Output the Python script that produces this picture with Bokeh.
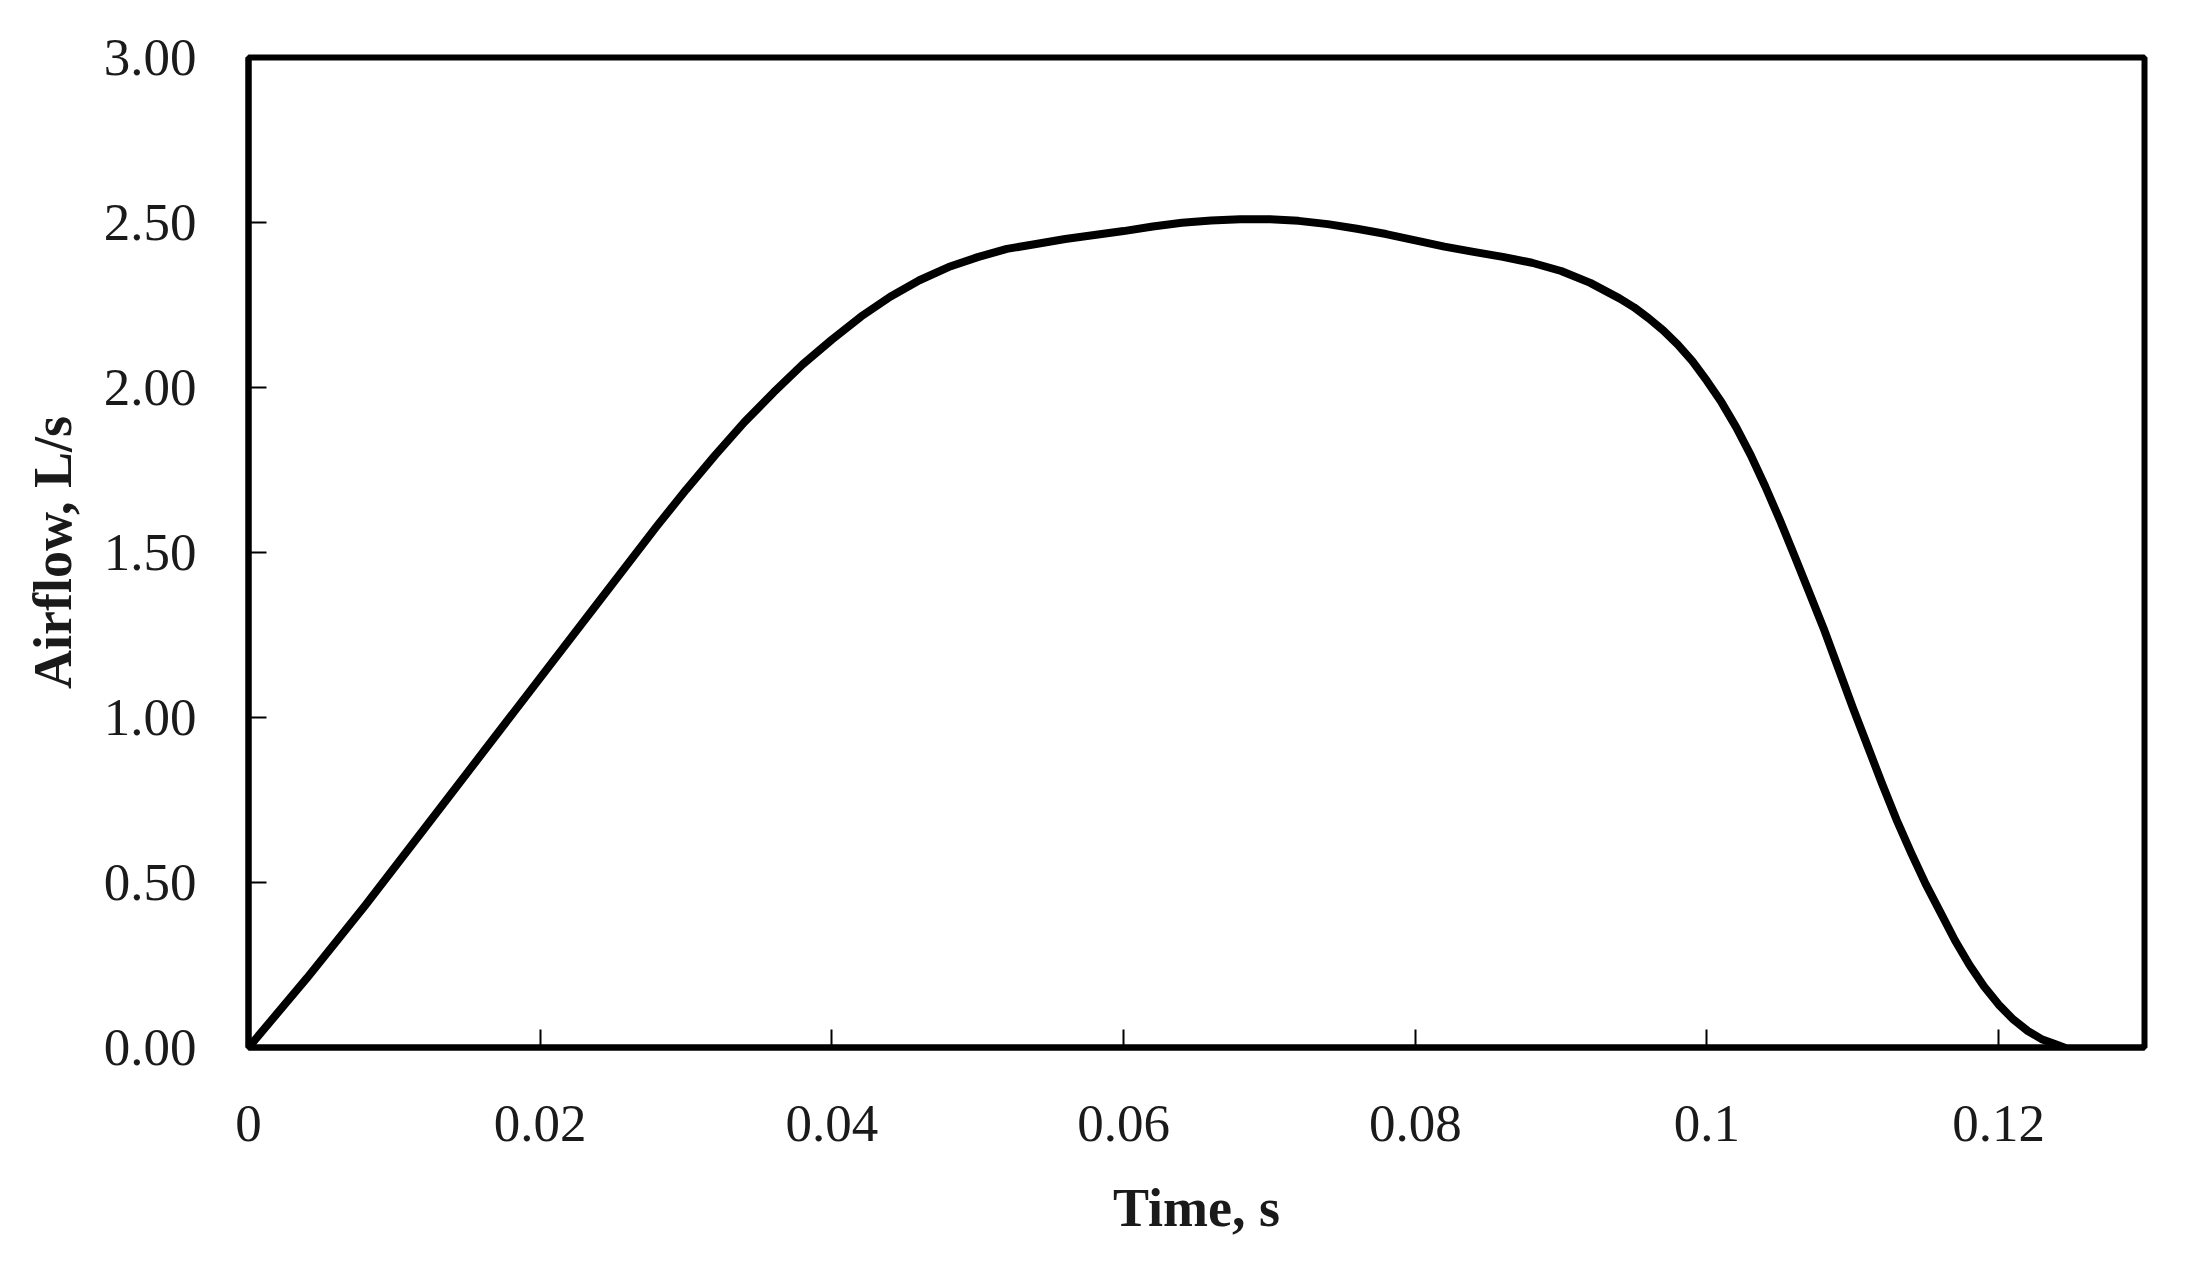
from bokeh.plotting import figure
from bokeh.models import FixedTicker, Range1d
from bokeh.embed import file_html
from bokeh.resources import INLINE

time_s = [0.000, 0.004, 0.008, 0.012, 0.016, 0.020, 0.024, 0.028, 0.030, 0.032,
          0.034, 0.036, 0.038, 0.040, 0.042, 0.044, 0.046, 0.048, 0.050, 0.052,
          0.054, 0.056, 0.058, 0.060, 0.062, 0.064, 0.066, 0.068, 0.070, 0.072,
          0.074, 0.076, 0.078, 0.080, 0.082, 0.084, 0.086, 0.088, 0.090, 0.092,
          0.094, 0.095, 0.096, 0.097, 0.098, 0.099, 0.100, 0.101, 0.102, 0.103,
          0.104, 0.105, 0.106, 0.107, 0.108, 0.109, 0.110, 0.111, 0.112, 0.113,
          0.114, 0.115, 0.116, 0.117, 0.118, 0.119, 0.120, 0.121, 0.122, 0.123,
          0.124, 0.1245]
airflow = [0.000, 0.21, 0.43, 0.66, 0.89, 1.12, 1.35, 1.58, 1.69, 1.795,
           1.895, 1.985, 2.07, 2.145, 2.215, 2.275, 2.325, 2.365, 2.395, 2.42,
           2.435, 2.45, 2.462, 2.474, 2.488, 2.499, 2.506, 2.51, 2.51, 2.505,
           2.495, 2.481, 2.465, 2.446, 2.427, 2.411, 2.396, 2.378, 2.353, 2.317,
           2.27, 2.243, 2.21, 2.173, 2.13, 2.08, 2.02, 1.955, 1.88, 1.795,
           1.70, 1.598, 1.49, 1.38, 1.27, 1.15, 1.03, 0.915, 0.80, 0.69,
           0.59, 0.495, 0.41, 0.325, 0.25, 0.185, 0.13, 0.085, 0.05, 0.024,
           0.008, 0.0]

x_ticks = [0, 0.02, 0.04, 0.06, 0.08, 0.1, 0.12]
x_tick_labels = ["0", "0.02", "0.04", "0.06", "0.08", "0.1", "0.12"]
y_ticks = [0, 0.5, 1.0, 1.5, 2.0, 2.5, 3.0]
y_tick_labels = ["0.00", "0.50", "1.00", "1.50", "2.00", "2.50", "3.00"]

FONT = "Liberation Serif"

p = figure(width=2170, height=1246, output_backend="svg", toolbar_location=None,
           x_range=Range1d(0, 0.13), y_range=Range1d(0, 3.0),
           min_border_left=248, min_border_right=26, min_border_top=57,
           min_border_bottom=199)
p.frame_width = 1896
p.frame_height = 990

p.line(time_s, airflow, line_color="black", line_width=8, line_join="round", line_cap="round")

p.xgrid.visible = False
p.ygrid.visible = False
p.outline_line_color = "black"
p.outline_line_width = 6
p.background_fill_color = "white"
p.border_fill_color = "white"

for ax in (p.xaxis[0], p.yaxis[0]):
    ax.axis_line_width = 6
    ax.axis_line_color = "black"
    ax.major_tick_in = 18
    ax.major_tick_out = 0
    ax.major_tick_line_width = 2
    ax.major_tick_line_color = "black"
    ax.minor_tick_line_color = None
    ax.major_label_text_font = FONT
    ax.major_label_text_font_size = "53px"
    ax.major_label_text_color = "#1a1a1a"
    ax.axis_label_text_font = FONT
    ax.axis_label_text_font_size = "54px"
    ax.axis_label_text_font_style = "bold"
    ax.axis_label_text_color = "#1a1a1a"

p.xaxis[0].ticker = FixedTicker(ticks=x_ticks)
p.xaxis[0].major_label_overrides = {t: l for t, l in zip(x_ticks, x_tick_labels)}
p.xaxis[0].axis_label = "Time, s"
p.xaxis[0].major_label_standoff = 58
p.xaxis[0].axis_label_standoff = 34

p.yaxis[0].ticker = FixedTicker(ticks=y_ticks)
p.yaxis[0].major_label_overrides = {t: l for t, l in zip(y_ticks, y_tick_labels)}
p.yaxis[0].axis_label = "Airflow, L/s"
p.yaxis[0].major_label_standoff = 52
p.yaxis[0].axis_label_standoff = 18

open("out.html", "w").write(file_html(p, INLINE))
